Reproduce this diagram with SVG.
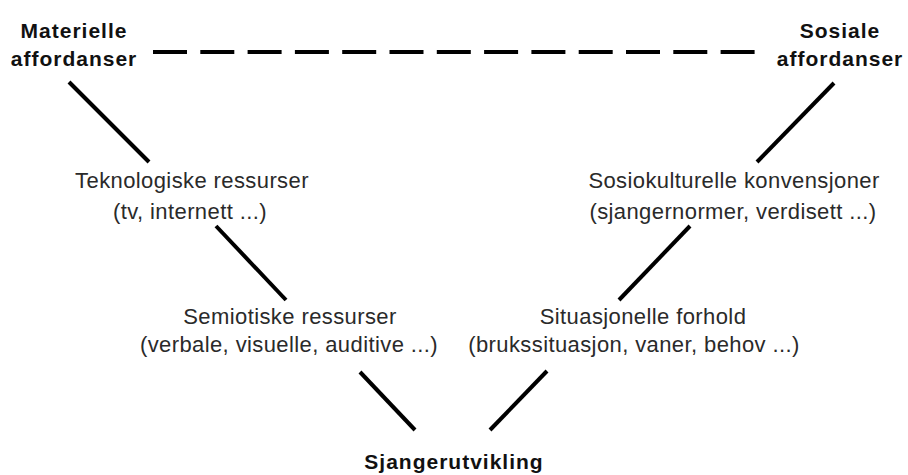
<svg xmlns="http://www.w3.org/2000/svg" width="908" height="475" viewBox="0 0 908 475">
  <style>
    .bold { font-family: "Liberation Sans", Arial, sans-serif; font-weight: bold; font-size: 21px; letter-spacing: 1px; fill: #111; text-anchor: middle; }
    .reg { font-family: "Liberation Sans", Arial, sans-serif; font-size: 22px; letter-spacing: 0.4px; fill: #2a2a2a; text-anchor: middle; }
    .conn { stroke: #000; stroke-width: 4; stroke-linecap: butt; fill: none; }
    .dash { stroke-dasharray: 34 13.3; }
  </style>
  <rect x="0" y="0" width="908" height="475" fill="#fff"/>

  <g id="connectors">
    <line class="conn dash" x1="153" y1="52" x2="756" y2="52"/>
    <line class="conn" x1="69" y1="82" x2="149" y2="162"/>
    <line class="conn" x1="216" y1="226" x2="286" y2="300"/>
    <line class="conn" x1="360" y1="372" x2="415" y2="430"/>
    <line class="conn" x1="834" y1="83" x2="757" y2="162"/>
    <line class="conn" x1="690" y1="226" x2="619" y2="300"/>
    <line class="conn" x1="547" y1="371" x2="490" y2="430"/>
  </g>

  <g id="materielle">
    <text class="bold" x="74" y="38">Materielle</text>
    <text class="bold" x="74" y="66">affordanser</text>
  </g>
  <g id="sosiale">
    <text class="bold" x="840" y="38">Sosiale</text>
    <text class="bold" x="840" y="66">affordanser</text>
  </g>
  <g id="teknologiske">
    <text class="reg" x="192" y="188">Teknologiske ressurser</text>
    <text class="reg" x="190" y="219">(tv, internett ...)</text>
  </g>
  <g id="sosiokulturelle">
    <text class="reg" x="734" y="188">Sosiokulturelle konvensjoner</text>
    <text class="reg" x="733" y="219">(sjangernormer, verdisett ...)</text>
  </g>
  <g id="semiotiske">
    <text class="reg" x="290" y="324">Semiotiske ressurser</text>
    <text class="reg" x="289" y="352">(verbale, visuelle, auditive ...)</text>
  </g>
  <g id="situasjonelle">
    <text class="reg" x="643" y="324">Situasjonelle forhold</text>
    <text class="reg" x="634" y="352">(brukssituasjon, vaner, behov ...)</text>
  </g>
  <g id="sjangerutvikling">
    <text class="bold" x="454" y="469">Sjangerutvikling</text>
  </g>
</svg>
